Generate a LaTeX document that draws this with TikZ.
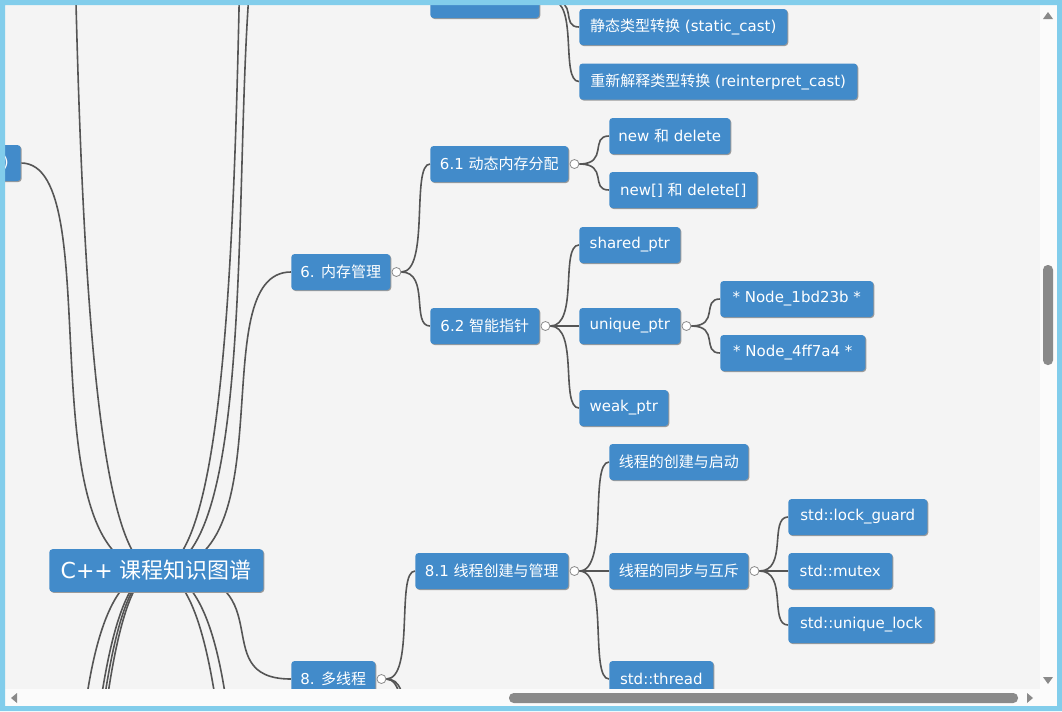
\documentclass[tikz,border=0pt]{standalone}
\usepackage{fontspec}
\setmainfont{DejaVu Sans}
\newfontfamily\zh{Noto Sans CJK SC}
\usetikzlibrary{calc, positioning, backgrounds}
\definecolor{nodeBlue}{HTML}{428BCA}
\definecolor{shadowGrey}{HTML}{9A9A9A}
\definecolor{linkGrey}{HTML}{555555}
\definecolor{knobGrey}{HTML}{8C8C8C}
\definecolor{canvasGrey}{HTML}{F4F4F4}
\definecolor{frameBlue}{HTML}{82CDEB}
\definecolor{trackWhite}{HTML}{FBFBFB}
\definecolor{thumbGrey}{HTML}{8A8A8A}
\tikzset{
  topic/.style  = {fill=nodeBlue, text=white, rounded corners=2.5pt, anchor=west,
                   font=\fontsize{11.25}{13}\selectfont, inner sep=0pt, minimum height=27pt,
                   preaction={fill=shadowGrey, transform canvas={shift={(0.75pt,-0.75pt)}}}},
  boxw/.style   = {minimum width=#1*0.75pt},
  rootbox/.style= {font=\fontsize{16.5}{19}\selectfont, minimum height=32pt},
  knob/.style   = {circle, draw=knobGrey, fill=white, line width=0.6pt,
                   minimum size=6.75pt, inner sep=0pt},
  link/.style   = {draw=linkGrey, line width=1.2pt,
                   to path={.. controls ($(\tikztostart)!2/3!(\tikztostart -| \tikztotarget)$)
                            and (\tikztostart |- \tikztotarget) .. (\tikztotarget)}},
  bar/.style    = {fill=thumbGrey, rounded corners=3.5pt},
  tip/.style    = {fill=thumbGrey}
}

\begin{document}
\begin{tikzpicture}[x=0.75pt, y=-0.75pt]
  \useasboundingbox (0,0) rectangle (1062,711);

  % root and the first level
  \node[topic, rootbox, boxw=214] (root) at (49,570.5) {C++ {\zh 课程知识图谱}};
  \node[topic, anchor=east, align=right, text width=60pt, inner xsep=9pt] (lp) at (21,163) {)};
  \node[topic, boxw=99] (n6) at (291,272) {6. {\zh 内存管理}};
  \node[topic, boxw=84] (n8) at (291,679) {8. {\zh 多线程}};

  % type casts (cut at the top)
  \node[topic, boxw=109] (tc) at (430,0) {};
  \node[topic, boxw=208] (stc) at (579,27) {{\zh 静态类型转换} (static\_cast)};
  \node[topic, boxw=278] (ric) at (579,81.5) {{\zh 重新解释类型转换} (reinterpret\_cast)};

  % memory
  \node[topic, boxw=138] (n61) at (430,164) {6.1 {\zh 动态内存分配}};
  \node[topic, boxw=109] (n62) at (430,326) {6.2 {\zh 智能指针}};
  \node[topic, boxw=121] (nd) at (609,136) {new {\zh 和} delete};
  \node[topic, boxw=148] (nda) at (609,190) {new[] {\zh 和} delete[]};
  \node[topic, boxw=101] (shp) at (579,245) {shared\_ptr};
  \node[topic, boxw=101] (unp) at (579,326) {unique\_ptr};
  \node[topic, boxw=89] (wkp) at (579,408) {weak\_ptr};
  \node[topic, boxw=153] (nda1) at (720,299) {* Node\_1bd23b *};
  \node[topic, boxw=145] (nda2) at (720,353) {* Node\_4ff7a4 *};

  % threads
  \node[topic, boxw=153] (n81) at (415,571) {8.1 {\zh 线程创建与管理}};
  \node[topic, boxw=139] (tcr) at (609,462) {{\zh 线程的创建与启动}};
  \node[topic, boxw=139] (tsy) at (609,571) {{\zh 线程的同步与互斥}};
  \node[topic, boxw=104] (tth) at (609,679) {std::thread};
  \node[topic, boxw=139] (lkg) at (788,517) {std::lock\_guard};
  \node[topic, boxw=104] (mtx) at (788,571) {std::mutex};
  \node[topic, boxw=146] (ulk) at (788,625) {std::unique\_lock};

  % expanders
  \node[knob, right=0.75pt of tc] (ktc) {};
  \node[knob, right=0.75pt of n6] (k6) {};
  \node[knob, right=0.75pt of n61] (k61) {};
  \node[knob, right=0.75pt of n62] (k62) {};
  \node[knob, right=0.75pt of unp] (kunp) {};
  \node[knob, right=0.75pt of n8] (k8) {};
  \node[knob, right=0.75pt of n81] (k81) {};
  \node[knob, right=0.75pt of tsy] (ktsy) {};

  % branches leaving the view
  \coordinate (offL1) at (21,-1020);
  \coordinate (offL2) at (21,1230);
  \coordinate (offL3) at (21,1951);
  \coordinate (offL4) at (21,2204);
  \coordinate (offL5) at (21,2472);
  \coordinate (offR1) at (291,-704);
  \coordinate (offR2) at (291,-142);
  \coordinate (offR3) at (291,1230);
  \coordinate (offR4) at (291,1690);
  \coordinate (off82) at (415,740);
  \coordinate (off83) at (415,795);

  \begin{scope}[on background layer]
    \fill[canvasGrey] (0,0) rectangle (1062,711);
    \clip (5,5) rectangle (1040,689);
    \foreach \a/\b in {stc/ktc, ric/ktc, n61/k6, n62/k6, nd/k61, nda/k61, shp/k62, unp/k62,
                       wkp/k62, nda1/kunp, nda2/kunp, n81/k8, tcr/k81, tsy/k81, tth/k81,
                       lkg/ktsy, mtx/ktsy, ulk/ktsy}
      \draw[link] (\a.west) to (\b.east);
    \foreach \a in {n6, n8} \draw[link] (\a.west) to (root.center);
    \draw[link] (lp.east) to (root.center);
    \foreach \a in {offL1, offL2, offL3, offL4, offL5, offR1, offR2, offR3, offR4}
      \draw[link] (\a) to (root.center);
    \foreach \a in {off82, off83} \draw[link] (\a) to (k8.east);
  \end{scope}

  % window frame and scroll bars
  \fill[trackWhite] (1040,5) rectangle (1057,706);
  \fill[trackWhite] (5,689) rectangle (1057,706);
  \fill[frameBlue, even odd rule] (0,0) rectangle (1062,711) (5,5) rectangle (1057,706);
  \fill[bar] (1043,265) rectangle (1053,365);
  \fill[bar] (509,693) rectangle (1018,703);
  \fill[tip] (1043,19) -- (1053,19) -- (1048,12) -- cycle;
  \fill[tip] (1043,677) -- (1053,677) -- (1048,684) -- cycle;
  \fill[tip] (17,693) -- (17,703) -- (11,698) -- cycle;
  \fill[tip] (1027,693) -- (1027,703) -- (1033,698) -- cycle;
\end{tikzpicture}
\end{document}
